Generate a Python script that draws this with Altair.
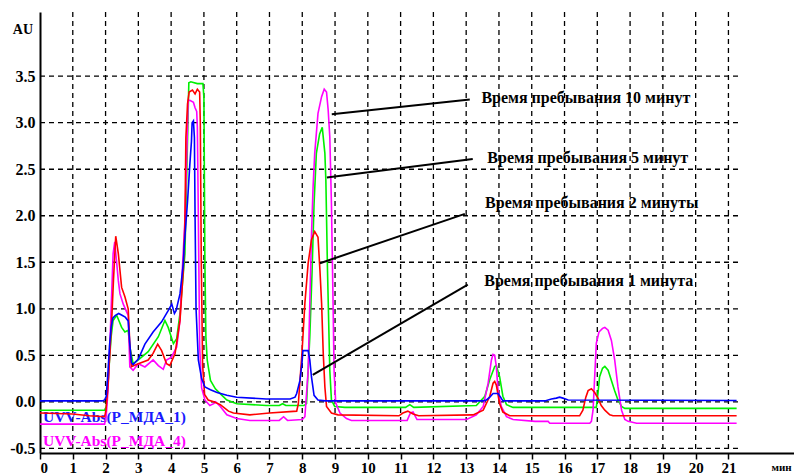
import altair as alt
import pandas as pd

# ---------------- data ----------------
x_ticks = list(range(0, 22))
y_ticks = [-0.5, 0.0, 0.5, 1.0, 1.5, 2.0, 2.5, 3.0, 3.5]

t_blue = [0.0, 1.9, 1.97, 2.02, 2.07, 2.12, 2.17, 2.22, 2.3, 2.4, 2.5, 2.6, 2.69, 2.74, 2.79, 2.84, 3.0, 3.2, 3.45, 3.71, 3.91, 4.02, 4.1, 4.15, 4.27, 4.37, 4.40, 4.50, 4.57, 4.62, 4.64, 4.68, 4.71, 4.73, 4.76, 4.83, 4.93, 5.03, 5.2, 5.4, 5.7, 6.0, 6.9, 7.63, 7.78, 7.83, 7.93, 7.99, 8.02, 8.18, 8.23, 8.28, 8.36, 8.48, 8.7, 13.5, 13.62, 13.72, 13.82, 13.97, 14.05, 14.12, 15.4, 15.6, 15.75, 15.85, 15.95, 16.11, 21.25]
v_blue = [0.01, 0.01, 0.02, 0.06, 0.3, 0.6, 0.8, 0.9, 0.93, 0.95, 0.93, 0.91, 0.87, 0.62, 0.42, 0.4, 0.46, 0.62, 0.75, 0.86, 0.98, 1.05, 0.95, 0.98, 1.16, 1.48, 1.68, 2.15, 2.55, 2.8, 3.0, 3.02, 2.84, 2.0, 1.0, 0.45, 0.25, 0.16, 0.13, 0.1, 0.07, 0.05, 0.03, 0.03, 0.05, 0.09, 0.23, 0.41, 0.55, 0.55, 0.45, 0.27, 0.07, 0.02, 0.01, 0.01, 0.02, 0.05, 0.09, 0.09, 0.05, 0.01, 0.01, 0.03, 0.04, 0.05, 0.04, 0.02, 0.015]

t_red = [0.0, 1.0, 1.5, 1.97, 2.01, 2.07, 2.13, 2.19, 2.24, 2.31, 2.39, 2.49, 2.59, 2.69, 2.74, 2.79, 3.0, 3.3, 3.45, 3.59, 3.71, 3.86, 3.96, 4.12, 4.27, 4.37, 4.42, 4.45, 4.5, 4.55, 4.65, 4.73, 4.8, 4.87, 4.89, 4.92, 4.96, 5.02, 5.13, 5.3, 5.5, 5.75, 5.9, 6.4, 7.0, 7.83, 7.88, 7.99, 8.08, 8.18, 8.28, 8.38, 8.48, 8.54, 8.59, 8.64, 8.69, 8.74, 8.89, 9.09, 10.95, 11.07, 11.22, 11.38, 11.55, 13.21, 13.52, 13.72, 13.82, 13.87, 13.92, 14.02, 14.12, 14.33, 16.46, 16.56, 16.65, 16.72, 16.82, 16.92, 17.02, 17.12, 17.23, 17.38, 17.48, 21.25]
v_red = [-0.12, -0.13, -0.15, -0.16, -0.1, 0.16, 0.52, 0.9, 1.3, 1.78, 1.59, 1.23, 1.13, 1.0, 0.62, 0.38, 0.41, 0.45, 0.52, 0.62, 0.55, 0.41, 0.39, 0.52, 0.875, 1.41, 1.9, 2.84, 3.2, 3.33, 3.35, 3.31, 3.36, 3.33, 3.0, 1.5, 0.4, 0.08, 0.02, 0.0, -0.03, -0.1, -0.12, -0.14, -0.12, -0.1, -0.02, 0.52, 1.06, 1.49, 1.74, 1.83, 1.77, 1.41, 1.06, 0.52, 0.16, -0.05, -0.12, -0.14, -0.15, -0.12, -0.1, -0.13, -0.15, -0.14, -0.09, 0.06, 0.2, 0.22, 0.18, -0.02, -0.11, -0.15, -0.15, -0.09, 0.05, 0.12, 0.14, 0.1, 0.04, -0.04, -0.09, -0.14, -0.15, -0.15]

t_green = [0.0, 1.97, 2.02, 2.07, 2.12, 2.17, 2.23, 2.34, 2.49, 2.59, 2.69, 2.74, 2.84, 3.0, 3.3, 3.61, 3.81, 3.91, 4.07, 4.17, 4.27, 4.42, 4.48, 4.54, 4.6, 4.8, 4.97, 5.0, 5.03, 5.06, 5.1, 5.2, 5.35, 5.55, 5.7, 6.0, 6.9, 7.3, 7.4, 7.5, 8.05, 8.13, 8.23, 8.30, 8.36, 8.43, 8.53, 8.61, 8.69, 8.72, 8.77, 8.84, 8.89, 8.99, 9.3, 11.15, 11.28, 11.4, 13.31, 13.57, 13.72, 13.87, 13.92, 14.02, 14.12, 14.23, 14.43, 16.97, 17.02, 17.07, 17.16, 17.23, 17.33, 17.43, 17.53, 17.63, 17.74, 17.84, 21.25]
v_green = [-0.09, -0.09, -0.05, 0.15, 0.45, 0.7, 0.875, 0.93, 0.80, 0.75, 0.77, 0.59, 0.41, 0.45, 0.54, 0.70, 0.875, 0.80, 0.625, 0.68, 0.95, 1.59, 2.5, 3.43, 3.44, 3.42, 3.42, 3.27, 1.5, 0.7, 0.45, 0.23, 0.14, 0.07, 0.02, -0.02, -0.04, -0.04, -0.02, -0.04, -0.04, -0.02, 0.70, 1.41, 2.13, 2.67, 2.88, 2.95, 2.67, 2.38, 1.41, 0.34, 0.02, -0.05, -0.06, -0.06, -0.03, -0.06, -0.04, 0.06, 0.24, 0.38, 0.39, 0.27, 0.06, -0.03, -0.06, -0.06, 0.09, 0.27, 0.36, 0.38, 0.34, 0.23, 0.12, 0.02, -0.05, -0.07, -0.07]

t_mag = [0.0, 1.97, 2.02, 2.07, 2.12, 2.18, 2.23, 2.28, 2.39, 2.44, 2.54, 2.69, 2.74, 2.84, 3.0, 3.2, 3.45, 3.61, 3.76, 3.86, 4.01, 4.17, 4.27, 4.34, 4.42, 4.47, 4.52, 4.57, 4.68, 4.73, 4.78, 4.80, 4.83, 4.87, 4.93, 5.03, 5.18, 5.3, 5.36, 5.5, 5.7, 6.0, 6.4, 7.3, 7.43, 7.55, 8.0, 8.08, 8.18, 8.23, 8.28, 8.33, 8.38, 8.48, 8.59, 8.67, 8.74, 8.79, 8.84, 8.89, 8.94, 8.97, 9.02, 9.15, 9.35, 9.5, 11.2, 11.3, 11.38, 11.5, 13.01, 13.31, 13.52, 13.67, 13.77, 13.82, 13.87, 13.92, 13.97, 14.07, 14.23, 14.43, 15.1, 15.5, 15.55, 16.77, 16.82, 16.87, 16.92, 16.97, 17.05, 17.16, 17.23, 17.33, 17.43, 17.53, 17.63, 17.74, 17.84, 17.94, 18.2, 21.25]
v_mag = [-0.24, -0.24, -0.15, 0.1, 0.5, 1.1, 1.59, 1.72, 1.30, 1.16, 1.05, 0.93, 0.375, 0.34, 0.41, 0.375, 0.45, 0.39, 0.35, 0.45, 0.48, 0.59, 0.875, 1.41, 1.95, 2.58, 3.24, 3.24, 3.22, 3.16, 3.12, 2.95, 2.0, 0.6, 0.15, 0.02, -0.04, -0.02, 0.0, -0.05, -0.14, -0.18, -0.2, -0.2, -0.16, -0.2, -0.19, -0.16, 0.34, 1.06, 1.78, 2.31, 2.67, 3.10, 3.28, 3.36, 3.33, 3.14, 2.85, 2.13, 1.06, 0.34, -0.01, -0.12, -0.18, -0.2, -0.2, -0.12, -0.11, -0.19, -0.19, -0.14, -0.05, 0.2, 0.45, 0.51, 0.5, 0.38, 0.13, -0.05, -0.16, -0.19, -0.21, -0.21, -0.23, -0.23, -0.21, -0.09, 0.27, 0.63, 0.75, 0.79, 0.80, 0.77, 0.66, 0.45, 0.16, -0.09, -0.19, -0.21, -0.23, -0.23]

ann_labels = ["Время пребывания 10 минут", "Время пребывания 5 минут",
              "Время пребывания 2 минуты", "Время пребывания 1 минута"]
ann_text_x = [16.65, 16.71, 16.83, 16.74]
ann_text_y = [3.27, 2.62, 2.14, 1.30]
ann_x1 = [8.90, 8.75, 8.54, 8.32]
ann_y1 = [3.09, 2.41, 1.49, 0.29]
ann_x2 = [13.11, 13.20, 12.96, 13.05]
ann_y2 = [3.25, 2.61, 2.02, 1.26]

legend_labels = ["UVV-Abs(P_МДА_1)", "UVV-Abs(P_МДА_4)"]
legend_colors = ["#1a1aff", "#ff00ff"]
legend_y = [-0.16, -0.42]

# ---------------- chart ----------------
FONT = "Liberation Serif"
X_DOM = [0, 23]
Y_DOM = [-0.55, 4.19]
xs = alt.Scale(domain=X_DOM, nice=False, zero=False)
ys = alt.Scale(domain=Y_DOM, nice=False, zero=False)

x_axis = alt.Axis(values=x_ticks, format="d", title=None, grid=False, labelOverlap=False,
                  domainColor="black", domainWidth=2, tickColor="black",
                  tickWidth=1.5, tickSize=6, labelPadding=1,
                  labelFont=FONT, labelFontWeight="bold", labelFontSize=15,
                  labelColor="black")
y_axis = alt.Axis(values=y_ticks, title=None, grid=False, labelOverlap=False,
                  labelExpr="datum.value < 0 ? '-' + format(-datum.value, '.1f') : format(datum.value, '.1f')",
                  domainColor="black", domainWidth=2, ticks=False, labelPadding=5,
                  labelFont=FONT, labelFontWeight="bold", labelFontSize=16,
                  labelColor="black")


def X(field):
    return alt.X(field, scale=xs, axis=x_axis)


def Y(field):
    return alt.Y(field, scale=ys, axis=y_axis)


vgrid_df = pd.DataFrame({"gx": x_ticks[1:]})
hgrid_df = pd.DataFrame({"gy": y_ticks, "x0": [0.0] * len(y_ticks), "x1": [21.3] * len(y_ticks)})

vgrid = alt.Chart(vgrid_df).mark_rule(color="black", strokeDash=[5, 4], strokeWidth=1.3).encode(
    x=X("gx:Q"))
hgrid = alt.Chart(hgrid_df).mark_rule(color="black", strokeDash=[5, 4], strokeWidth=1.3).encode(
    y=Y("gy:Q"), x=X("x0:Q"), x2="x1:Q")

leg_df = pd.DataFrame({"lab": legend_labels, "col": legend_colors,
                       "lx": [0.09, 0.09], "ly": legend_y})
legend_text = alt.Chart(leg_df).mark_text(align="left", baseline="middle", font=FONT,
                                          fontWeight="bold", fontSize=15.5).encode(
    x=X("lx:Q"), y=Y("ly:Q"),
    text="lab:N", color=alt.Color("col:N", scale=None))


def trace(t, v, color):
    df = pd.DataFrame({"t": t, "v": v})
    return alt.Chart(df).mark_line(color=color, strokeWidth=1.6).encode(
        x=X("t:Q"), y=Y("v:Q"), order="t:Q")


lines = [trace(t_green, v_green, "#00f000"), trace(t_mag, v_mag, "#ff00ff"),
         trace(t_red, v_red, "#ff0000"), trace(t_blue, v_blue, "#0000ff")]

ann_df = pd.DataFrame({"lab": ann_labels, "tx": ann_text_x, "ty": ann_text_y,
                       "x1": ann_x1, "y1": ann_y1, "x2": ann_x2, "y2": ann_y2})
ann_lines = alt.Chart(ann_df).mark_rule(color="black", strokeWidth=2).encode(
    x=X("x1:Q"), y=Y("y1:Q"), x2="x2:Q", y2="y2:Q")
ann_text = alt.Chart(ann_df).mark_text(align="center", baseline="middle", font=FONT,
                                       fontWeight="bold", fontSize=16, color="black").encode(
    x=X("tx:Q"), y=Y("ty:Q"), text="lab:N")

misc_df = pd.DataFrame({"lab": ["AU", "мин"], "mx": [-0.52, 22.62], "my": [4.0, -0.71]})
au_text = alt.Chart(misc_df[misc_df.lab == "AU"]).mark_text(
    align="center", baseline="middle", font=FONT, fontWeight="bold", fontSize=14,
    color="black").encode(x=X("mx:Q"), y=Y("my:Q"), text="lab:N")
min_text = alt.Chart(misc_df[misc_df.lab == "мин"]).mark_text(
    align="center", baseline="middle", font=FONT, fontWeight="bold", fontSize=11,
    color="black").encode(x=X("mx:Q"), y=Y("my:Q"), text="lab:N")

chart = alt.layer(vgrid, hgrid, legend_text, *lines, ann_lines, ann_text, au_text, min_text).properties(
    width=754, height=441,
    autosize=alt.AutoSizeParams(type="none"),
    padding={"left": 32, "top": 4, "right": 0, "bottom": 30},
    background="white",
).configure_view(stroke=None)

chart.save("out.html", embed_options={"renderer": "svg", "actions": False})
